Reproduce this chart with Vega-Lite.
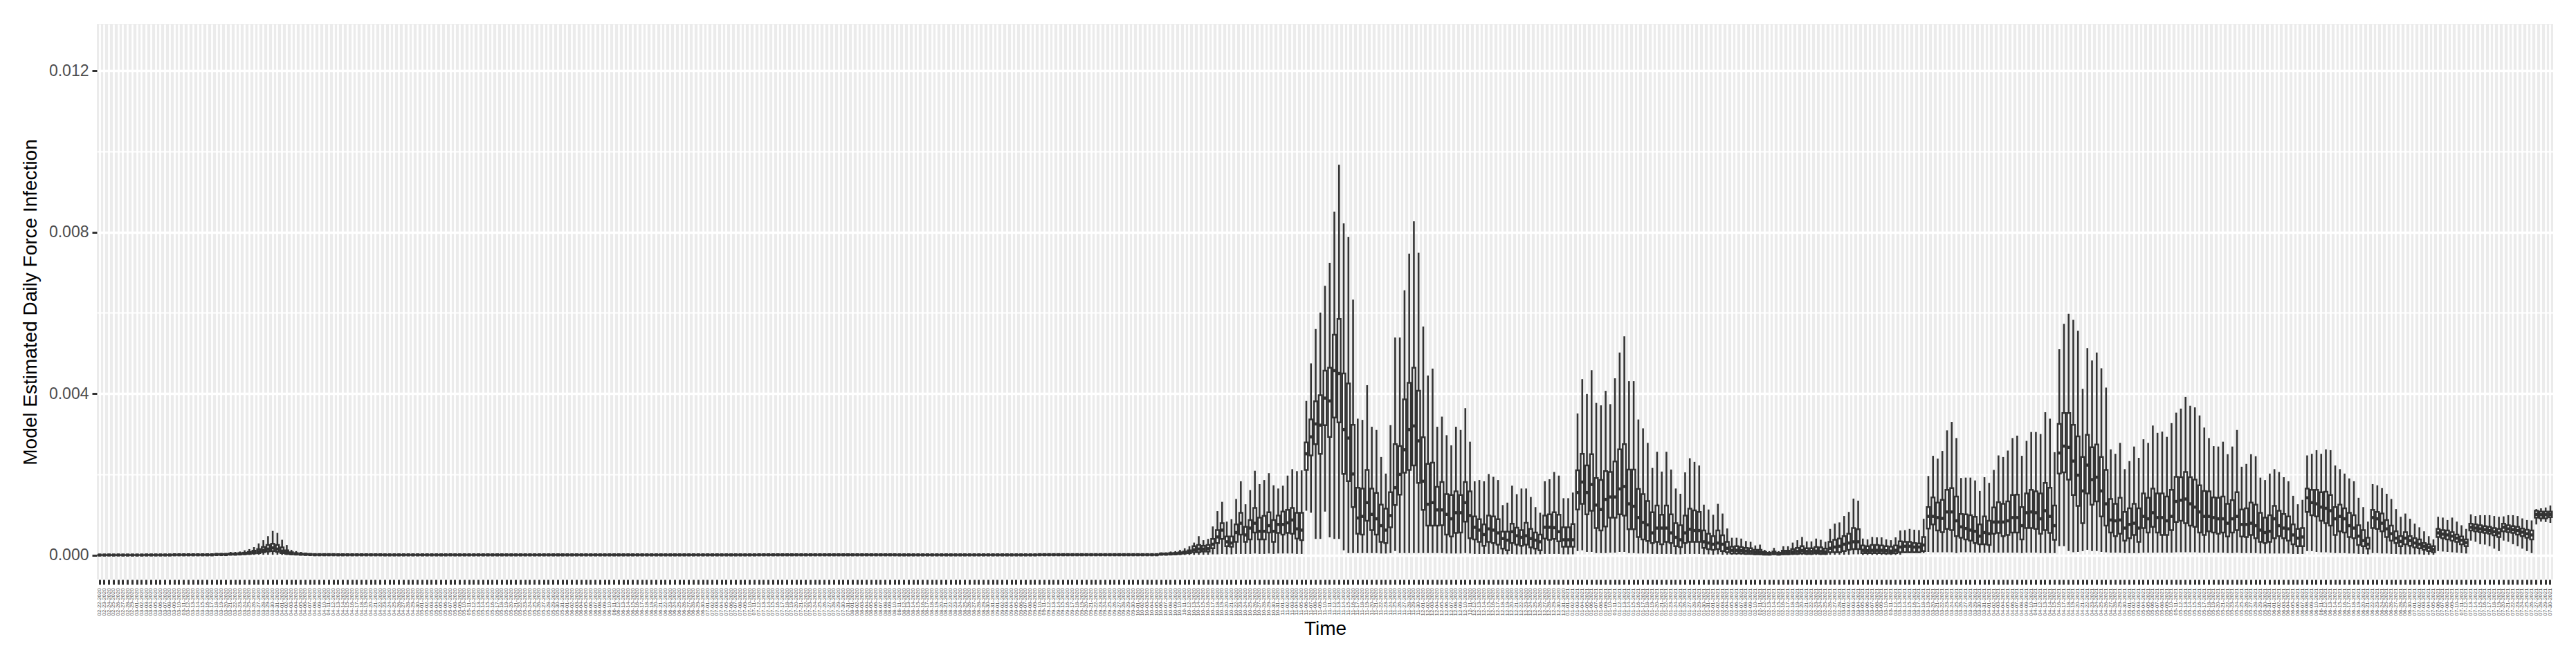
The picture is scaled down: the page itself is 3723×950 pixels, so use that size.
{
"$schema":"https://vega.github.io/schema/vega-lite/v6.json",
"width":3550,"height":803,
"autosize":{"type":"none"},
"padding":{"left":140,"top":35,"right":33,"bottom":112},
"background":"#FFFFFF",
"config":{"view":{"fill":"#EBEBEB","stroke":null},"font":"Liberation Sans"},
"data":{"values":[
{"t":"02-22-2020","lo":0,"q1":0.000001,"md":0.000002,"q3":0.000003,"hi":0.000006},
{"t":"02-23-2020","lo":0,"q1":0.000001,"md":0.000002,"q3":0.000003,"hi":0.000006},
{"t":"02-24-2020","lo":0,"q1":0.000001,"md":0.000002,"q3":0.000003,"hi":0.000006},
{"t":"02-25-2020","lo":0,"q1":0.000001,"md":0.000002,"q3":0.000003,"hi":0.000006},
{"t":"02-26-2020","lo":0,"q1":0.000001,"md":0.000002,"q3":0.000003,"hi":0.000006},
{"t":"02-27-2020","lo":0,"q1":0.000001,"md":0.000002,"q3":0.000003,"hi":0.000006},
{"t":"02-28-2020","lo":0,"q1":0.000001,"md":0.000002,"q3":0.000003,"hi":0.000006},
{"t":"02-29-2020","lo":0,"q1":0.000001,"md":0.000002,"q3":0.000003,"hi":0.000006},
{"t":"03-01-2020","lo":0,"q1":0.000001,"md":0.000002,"q3":0.000003,"hi":0.000006},
{"t":"03-02-2020","lo":0,"q1":0.000001,"md":0.000002,"q3":0.000003,"hi":0.000006},
{"t":"03-03-2020","lo":0,"q1":0.000002,"md":0.000004,"q3":0.000006,"hi":0.000012},
{"t":"03-04-2020","lo":0,"q1":0.000002,"md":0.000004,"q3":0.000006,"hi":0.000012},
{"t":"03-05-2020","lo":0,"q1":0.000002,"md":0.000004,"q3":0.000006,"hi":0.000012},
{"t":"03-06-2020","lo":0,"q1":0.000002,"md":0.000004,"q3":0.000006,"hi":0.000012},
{"t":"03-07-2020","lo":0,"q1":0.000002,"md":0.000004,"q3":0.000006,"hi":0.000012},
{"t":"03-08-2020","lo":0,"q1":0.000002,"md":0.000004,"q3":0.000006,"hi":0.000012},
{"t":"03-09-2020","lo":0.000001,"q1":0.000004,"md":0.000008,"q3":0.000012,"hi":0.00002},
{"t":"03-10-2020","lo":0.000001,"q1":0.000004,"md":0.000008,"q3":0.000012,"hi":0.00002},
{"t":"03-11-2020","lo":0.000001,"q1":0.000004,"md":0.000008,"q3":0.000012,"hi":0.00002},
{"t":"03-12-2020","lo":0.000001,"q1":0.000004,"md":0.000008,"q3":0.000012,"hi":0.00002},
{"t":"03-13-2020","lo":0.000001,"q1":0.000004,"md":0.000008,"q3":0.000012,"hi":0.00002},
{"t":"03-14-2020","lo":0.000001,"q1":0.000004,"md":0.000008,"q3":0.000012,"hi":0.00002},
{"t":"03-15-2020","lo":0.000001,"q1":0.000004,"md":0.000008,"q3":0.000012,"hi":0.00002},
{"t":"03-16-2020","lo":0.000001,"q1":0.000004,"md":0.000008,"q3":0.000012,"hi":0.00002},
{"t":"03-17-2020","lo":0.000001,"q1":0.000004,"md":0.000008,"q3":0.000012,"hi":0.00002},
{"t":"03-18-2020","lo":0.000002,"q1":0.00001,"md":0.000015,"q3":0.000025,"hi":0.00005},
{"t":"03-19-2020","lo":0.000002,"q1":0.00001,"md":0.000015,"q3":0.000025,"hi":0.00005},
{"t":"03-20-2020","lo":0.000002,"q1":0.00001,"md":0.000015,"q3":0.000025,"hi":0.00005},
{"t":"03-21-2020","lo":0.000003,"q1":0.000015,"md":0.000025,"q3":0.00004,"hi":0.00008},
{"t":"03-22-2020","lo":0.000003,"q1":0.000015,"md":0.000025,"q3":0.00004,"hi":0.00008},
{"t":"03-23-2020","lo":0.000004,"q1":0.00002,"md":0.00003,"q3":0.00005,"hi":0.00009},
{"t":"03-24-2020","lo":0.000005,"q1":0.000025,"md":0.00004,"q3":0.00006,"hi":0.00012},
{"t":"03-25-2020","lo":0.000006,"q1":0.00003,"md":0.00005,"q3":0.00008,"hi":0.00015},
{"t":"03-26-2020","lo":0.000008,"q1":0.00004,"md":0.00007,"q3":0.00011,"hi":0.0002},
{"t":"03-27-2020","lo":0.00001,"q1":0.00005,"md":0.00009,"q3":0.00015,"hi":0.00029},
{"t":"03-28-2020","lo":0.00001,"q1":0.00007,"md":0.00012,"q3":0.0002,"hi":0.00037},
{"t":"03-29-2020","lo":0.00001,"q1":0.00009,"md":0.00015,"q3":0.00025,"hi":0.00047},
{"t":"03-30-2020","lo":0.00001,"q1":0.0001,"md":0.00018,"q3":0.00028,"hi":0.0006},
{"t":"03-31-2020","lo":0.00001,"q1":0.00008,"md":0.00015,"q3":0.00025,"hi":0.00055},
{"t":"04-01-2020","lo":0.000008,"q1":0.00005,"md":0.0001,"q3":0.00019,"hi":0.00038},
{"t":"04-02-2020","lo":0.000006,"q1":0.00003,"md":0.00006,"q3":0.00012,"hi":0.00025},
{"t":"04-03-2020","lo":0.000004,"q1":0.00002,"md":0.00004,"q3":0.00007,"hi":0.00013},
{"t":"04-04-2020","lo":0.000003,"q1":0.000015,"md":0.00003,"q3":0.00005,"hi":0.0001},
{"t":"04-05-2020","lo":0.000002,"q1":0.000012,"md":0.000025,"q3":0.00004,"hi":0.00008},
{"t":"04-06-2020","lo":0.000002,"q1":0.00001,"md":0.00002,"q3":0.00003,"hi":0.00006},
{"t":"04-07-2020","lo":0.000001,"q1":0.000008,"md":0.000015,"q3":0.000025,"hi":0.000045},
{"t":"04-08-2020","lo":0.000001,"q1":0.000005,"md":0.00001,"q3":0.000018,"hi":0.000035},
{"t":"04-09-2020","lo":0.000001,"q1":0.000005,"md":0.00001,"q3":0.000018,"hi":0.000035},
{"t":"04-10-2020","lo":0.000001,"q1":0.000005,"md":0.00001,"q3":0.000018,"hi":0.000035},
{"t":"04-11-2020","lo":0.000001,"q1":0.000005,"md":0.00001,"q3":0.000018,"hi":0.000035},
{"t":"04-12-2020","lo":0.000001,"q1":0.000005,"md":0.00001,"q3":0.000018,"hi":0.000035},
{"t":"04-13-2020","lo":0.000001,"q1":0.000004,"md":0.000008,"q3":0.000014,"hi":0.000028},
{"t":"04-14-2020","lo":0.000001,"q1":0.000004,"md":0.000008,"q3":0.000014,"hi":0.000028},
{"t":"04-15-2020","lo":0.000001,"q1":0.000004,"md":0.000008,"q3":0.000014,"hi":0.000028},
{"t":"04-16-2020","lo":0.000001,"q1":0.000004,"md":0.000008,"q3":0.000014,"hi":0.000028},
{"t":"04-17-2020","lo":0.000001,"q1":0.000004,"md":0.000008,"q3":0.000014,"hi":0.000028},
{"t":"04-18-2020","lo":0.000001,"q1":0.000004,"md":0.000008,"q3":0.000014,"hi":0.000028},
{"t":"04-19-2020","lo":0.000001,"q1":0.000004,"md":0.000008,"q3":0.000014,"hi":0.000028},
{"t":"04-20-2020","lo":0.000001,"q1":0.000004,"md":0.000008,"q3":0.000014,"hi":0.000028},
{"t":"04-21-2020","lo":0.000001,"q1":0.000004,"md":0.000008,"q3":0.000014,"hi":0.000028},
{"t":"04-22-2020","lo":0.000001,"q1":0.000004,"md":0.000008,"q3":0.000014,"hi":0.000028},
{"t":"04-23-2020","lo":0,"q1":0.000003,"md":0.000006,"q3":0.00001,"hi":0.00002},
{"t":"04-24-2020","lo":0,"q1":0.000003,"md":0.000006,"q3":0.00001,"hi":0.00002},
{"t":"04-25-2020","lo":0,"q1":0.000003,"md":0.000006,"q3":0.00001,"hi":0.00002},
{"t":"04-26-2020","lo":0,"q1":0.000003,"md":0.000006,"q3":0.00001,"hi":0.00002},
{"t":"04-27-2020","lo":0,"q1":0.000003,"md":0.000006,"q3":0.00001,"hi":0.00002},
{"t":"04-28-2020","lo":0,"q1":0.000003,"md":0.000006,"q3":0.00001,"hi":0.00002},
{"t":"04-29-2020","lo":0,"q1":0.000003,"md":0.000006,"q3":0.00001,"hi":0.00002},
{"t":"04-30-2020","lo":0,"q1":0.000003,"md":0.000006,"q3":0.00001,"hi":0.00002},
{"t":"05-01-2020","lo":0,"q1":0.000003,"md":0.000006,"q3":0.00001,"hi":0.00002},
{"t":"05-02-2020","lo":0,"q1":0.000003,"md":0.000006,"q3":0.00001,"hi":0.00002},
{"t":"05-03-2020","lo":0,"q1":0.000003,"md":0.000006,"q3":0.00001,"hi":0.00002},
{"t":"05-04-2020","lo":0,"q1":0.000003,"md":0.000006,"q3":0.00001,"hi":0.00002},
{"t":"05-05-2020","lo":0,"q1":0.000003,"md":0.000006,"q3":0.00001,"hi":0.00002},
{"t":"05-06-2020","lo":0,"q1":0.000003,"md":0.000006,"q3":0.00001,"hi":0.00002},
{"t":"05-07-2020","lo":0,"q1":0.000003,"md":0.000006,"q3":0.00001,"hi":0.00002},
{"t":"05-08-2020","lo":0,"q1":0.000003,"md":0.000006,"q3":0.00001,"hi":0.00002},
{"t":"05-09-2020","lo":0,"q1":0.000003,"md":0.000006,"q3":0.00001,"hi":0.00002},
{"t":"05-10-2020","lo":0,"q1":0.000003,"md":0.000006,"q3":0.00001,"hi":0.00002},
{"t":"05-11-2020","lo":0,"q1":0.000003,"md":0.000006,"q3":0.00001,"hi":0.00002},
{"t":"05-12-2020","lo":0,"q1":0.000003,"md":0.000006,"q3":0.00001,"hi":0.00002},
{"t":"05-13-2020","lo":0,"q1":0.000003,"md":0.000006,"q3":0.00001,"hi":0.00002},
{"t":"05-14-2020","lo":0,"q1":0.000003,"md":0.000006,"q3":0.00001,"hi":0.00002},
{"t":"05-15-2020","lo":0,"q1":0.000003,"md":0.000006,"q3":0.00001,"hi":0.00002},
{"t":"05-16-2020","lo":0,"q1":0.000003,"md":0.000006,"q3":0.00001,"hi":0.00002},
{"t":"05-17-2020","lo":0,"q1":0.000003,"md":0.000006,"q3":0.00001,"hi":0.00002},
{"t":"05-18-2020","lo":0,"q1":0.000003,"md":0.000006,"q3":0.00001,"hi":0.00002},
{"t":"05-19-2020","lo":0,"q1":0.000003,"md":0.000006,"q3":0.00001,"hi":0.00002},
{"t":"05-20-2020","lo":0,"q1":0.000003,"md":0.000006,"q3":0.00001,"hi":0.00002},
{"t":"05-21-2020","lo":0,"q1":0.000003,"md":0.000006,"q3":0.00001,"hi":0.00002},
{"t":"05-22-2020","lo":0,"q1":0.000003,"md":0.000006,"q3":0.00001,"hi":0.00002},
{"t":"05-23-2020","lo":0,"q1":0.000003,"md":0.000006,"q3":0.00001,"hi":0.00002},
{"t":"05-24-2020","lo":0,"q1":0.000003,"md":0.000006,"q3":0.00001,"hi":0.00002},
{"t":"05-25-2020","lo":0,"q1":0.000003,"md":0.000006,"q3":0.00001,"hi":0.00002},
{"t":"05-26-2020","lo":0,"q1":0.000003,"md":0.000006,"q3":0.00001,"hi":0.00002},
{"t":"05-27-2020","lo":0,"q1":0.000003,"md":0.000006,"q3":0.00001,"hi":0.00002},
{"t":"05-28-2020","lo":0,"q1":0.000003,"md":0.000006,"q3":0.00001,"hi":0.00002},
{"t":"05-29-2020","lo":0,"q1":0.000003,"md":0.000006,"q3":0.00001,"hi":0.00002},
{"t":"05-30-2020","lo":0,"q1":0.000003,"md":0.000006,"q3":0.00001,"hi":0.00002},
{"t":"05-31-2020","lo":0,"q1":0.000003,"md":0.000006,"q3":0.00001,"hi":0.00002},
{"t":"06-01-2020","lo":0,"q1":0.000003,"md":0.000006,"q3":0.00001,"hi":0.00002},
{"t":"06-02-2020","lo":0,"q1":0.000003,"md":0.000006,"q3":0.00001,"hi":0.00002},
{"t":"06-03-2020","lo":0,"q1":0.000003,"md":0.000006,"q3":0.00001,"hi":0.00002},
{"t":"06-04-2020","lo":0,"q1":0.000003,"md":0.000006,"q3":0.00001,"hi":0.00002},
{"t":"06-05-2020","lo":0,"q1":0.000003,"md":0.000006,"q3":0.00001,"hi":0.00002},
{"t":"06-06-2020","lo":0,"q1":0.000003,"md":0.000006,"q3":0.00001,"hi":0.00002},
{"t":"06-07-2020","lo":0,"q1":0.000003,"md":0.000006,"q3":0.00001,"hi":0.00002},
{"t":"06-08-2020","lo":0,"q1":0.000003,"md":0.000006,"q3":0.00001,"hi":0.00002},
{"t":"06-09-2020","lo":0,"q1":0.000003,"md":0.000006,"q3":0.00001,"hi":0.00002},
{"t":"06-10-2020","lo":0,"q1":0.000003,"md":0.000006,"q3":0.00001,"hi":0.00002},
{"t":"06-11-2020","lo":0,"q1":0.000003,"md":0.000006,"q3":0.00001,"hi":0.00002},
{"t":"06-12-2020","lo":0,"q1":0.000003,"md":0.000006,"q3":0.00001,"hi":0.00002},
{"t":"06-13-2020","lo":0,"q1":0.000003,"md":0.000006,"q3":0.00001,"hi":0.00002},
{"t":"06-14-2020","lo":0,"q1":0.000003,"md":0.000006,"q3":0.00001,"hi":0.00002},
{"t":"06-15-2020","lo":0,"q1":0.000003,"md":0.000006,"q3":0.00001,"hi":0.00002},
{"t":"06-16-2020","lo":0,"q1":0.000003,"md":0.000006,"q3":0.00001,"hi":0.00002},
{"t":"06-17-2020","lo":0,"q1":0.000003,"md":0.000006,"q3":0.00001,"hi":0.00002},
{"t":"06-18-2020","lo":0,"q1":0.000003,"md":0.000006,"q3":0.00001,"hi":0.00002},
{"t":"06-19-2020","lo":0,"q1":0.000003,"md":0.000006,"q3":0.00001,"hi":0.00002},
{"t":"06-20-2020","lo":0,"q1":0.000003,"md":0.000006,"q3":0.00001,"hi":0.00002},
{"t":"06-21-2020","lo":0,"q1":0.000003,"md":0.000006,"q3":0.00001,"hi":0.00002},
{"t":"06-22-2020","lo":0,"q1":0.000003,"md":0.000006,"q3":0.00001,"hi":0.00002},
{"t":"06-23-2020","lo":0,"q1":0.000003,"md":0.000006,"q3":0.00001,"hi":0.00002},
{"t":"06-24-2020","lo":0,"q1":0.000003,"md":0.000006,"q3":0.00001,"hi":0.00002},
{"t":"06-25-2020","lo":0,"q1":0.000003,"md":0.000006,"q3":0.00001,"hi":0.00002},
{"t":"06-26-2020","lo":0,"q1":0.000003,"md":0.000006,"q3":0.00001,"hi":0.00002},
{"t":"06-27-2020","lo":0,"q1":0.000003,"md":0.000006,"q3":0.00001,"hi":0.00002},
{"t":"06-28-2020","lo":0,"q1":0.000003,"md":0.000006,"q3":0.00001,"hi":0.00002},
{"t":"06-29-2020","lo":0,"q1":0.000003,"md":0.000006,"q3":0.00001,"hi":0.00002},
{"t":"06-30-2020","lo":0,"q1":0.000003,"md":0.000006,"q3":0.00001,"hi":0.00002},
{"t":"07-01-2020","lo":0,"q1":0.000003,"md":0.000006,"q3":0.00001,"hi":0.00002},
{"t":"07-02-2020","lo":0,"q1":0.000003,"md":0.000006,"q3":0.00001,"hi":0.00002},
{"t":"07-03-2020","lo":0,"q1":0.000003,"md":0.000006,"q3":0.00001,"hi":0.00002},
{"t":"07-04-2020","lo":0,"q1":0.000003,"md":0.000006,"q3":0.00001,"hi":0.00002},
{"t":"07-05-2020","lo":0,"q1":0.000003,"md":0.000006,"q3":0.00001,"hi":0.00002},
{"t":"07-06-2020","lo":0,"q1":0.000003,"md":0.000006,"q3":0.00001,"hi":0.00002},
{"t":"07-07-2020","lo":0,"q1":0.000003,"md":0.000006,"q3":0.00001,"hi":0.00002},
{"t":"07-08-2020","lo":0,"q1":0.000003,"md":0.000006,"q3":0.00001,"hi":0.00002},
{"t":"07-09-2020","lo":0,"q1":0.000003,"md":0.000006,"q3":0.00001,"hi":0.00002},
{"t":"07-10-2020","lo":0,"q1":0.000003,"md":0.000006,"q3":0.00001,"hi":0.00002},
{"t":"07-11-2020","lo":0,"q1":0.000003,"md":0.000006,"q3":0.00001,"hi":0.00002},
{"t":"07-12-2020","lo":0,"q1":0.000004,"md":0.000008,"q3":0.000013,"hi":0.000028},
{"t":"07-13-2020","lo":0,"q1":0.000004,"md":0.000008,"q3":0.000013,"hi":0.000028},
{"t":"07-14-2020","lo":0,"q1":0.000004,"md":0.000008,"q3":0.000013,"hi":0.000028},
{"t":"07-15-2020","lo":0,"q1":0.000004,"md":0.000008,"q3":0.000013,"hi":0.000028},
{"t":"07-16-2020","lo":0,"q1":0.000004,"md":0.000008,"q3":0.000013,"hi":0.000028},
{"t":"07-17-2020","lo":0,"q1":0.000004,"md":0.000008,"q3":0.000013,"hi":0.000028},
{"t":"07-18-2020","lo":0,"q1":0.000004,"md":0.000008,"q3":0.000013,"hi":0.000028},
{"t":"07-19-2020","lo":0,"q1":0.000004,"md":0.000008,"q3":0.000013,"hi":0.000028},
{"t":"07-20-2020","lo":0,"q1":0.000004,"md":0.000008,"q3":0.000013,"hi":0.000028},
{"t":"07-21-2020","lo":0,"q1":0.000004,"md":0.000008,"q3":0.000013,"hi":0.000028},
{"t":"07-22-2020","lo":0,"q1":0.000004,"md":0.000008,"q3":0.000013,"hi":0.000028},
{"t":"07-23-2020","lo":0,"q1":0.000004,"md":0.000008,"q3":0.000013,"hi":0.000028},
{"t":"07-24-2020","lo":0,"q1":0.000004,"md":0.000008,"q3":0.000013,"hi":0.000028},
{"t":"07-25-2020","lo":0,"q1":0.000004,"md":0.000008,"q3":0.000013,"hi":0.000028},
{"t":"07-26-2020","lo":0,"q1":0.000004,"md":0.000008,"q3":0.000013,"hi":0.000028},
{"t":"07-27-2020","lo":0,"q1":0.000004,"md":0.000008,"q3":0.000013,"hi":0.000028},
{"t":"07-28-2020","lo":0,"q1":0.000004,"md":0.000008,"q3":0.000013,"hi":0.000028},
{"t":"07-29-2020","lo":0,"q1":0.000004,"md":0.000008,"q3":0.000013,"hi":0.000028},
{"t":"07-30-2020","lo":0,"q1":0.000004,"md":0.000008,"q3":0.000013,"hi":0.000028},
{"t":"07-31-2020","lo":0,"q1":0.000004,"md":0.000008,"q3":0.000013,"hi":0.000028},
{"t":"08-01-2020","lo":0,"q1":0.000004,"md":0.000008,"q3":0.000013,"hi":0.000028},
{"t":"08-02-2020","lo":0,"q1":0.000004,"md":0.000008,"q3":0.000013,"hi":0.000028},
{"t":"08-03-2020","lo":0,"q1":0.000004,"md":0.000008,"q3":0.000013,"hi":0.000028},
{"t":"08-04-2020","lo":0,"q1":0.000004,"md":0.000008,"q3":0.000013,"hi":0.000028},
{"t":"08-05-2020","lo":0,"q1":0.000004,"md":0.000008,"q3":0.000013,"hi":0.000028},
{"t":"08-06-2020","lo":0,"q1":0.000004,"md":0.000008,"q3":0.000013,"hi":0.000028},
{"t":"08-07-2020","lo":0,"q1":0.000004,"md":0.000008,"q3":0.000013,"hi":0.000028},
{"t":"08-08-2020","lo":0,"q1":0.000004,"md":0.000008,"q3":0.000013,"hi":0.000028},
{"t":"08-09-2020","lo":0,"q1":0.000004,"md":0.000008,"q3":0.000013,"hi":0.000028},
{"t":"08-10-2020","lo":0,"q1":0.000004,"md":0.000008,"q3":0.000013,"hi":0.000028},
{"t":"08-11-2020","lo":0,"q1":0.000003,"md":0.000006,"q3":0.00001,"hi":0.00002},
{"t":"08-12-2020","lo":0,"q1":0.000003,"md":0.000006,"q3":0.00001,"hi":0.00002},
{"t":"08-13-2020","lo":0,"q1":0.000003,"md":0.000006,"q3":0.00001,"hi":0.00002},
{"t":"08-14-2020","lo":0,"q1":0.000003,"md":0.000006,"q3":0.00001,"hi":0.00002},
{"t":"08-15-2020","lo":0,"q1":0.000003,"md":0.000006,"q3":0.00001,"hi":0.00002},
{"t":"08-16-2020","lo":0,"q1":0.000003,"md":0.000006,"q3":0.00001,"hi":0.00002},
{"t":"08-17-2020","lo":0,"q1":0.000003,"md":0.000006,"q3":0.00001,"hi":0.00002},
{"t":"08-18-2020","lo":0,"q1":0.000003,"md":0.000006,"q3":0.00001,"hi":0.00002},
{"t":"08-19-2020","lo":0,"q1":0.000003,"md":0.000006,"q3":0.00001,"hi":0.00002},
{"t":"08-20-2020","lo":0,"q1":0.000003,"md":0.000006,"q3":0.00001,"hi":0.00002},
{"t":"08-21-2020","lo":0,"q1":0.000003,"md":0.000006,"q3":0.00001,"hi":0.00002},
{"t":"08-22-2020","lo":0,"q1":0.000003,"md":0.000006,"q3":0.00001,"hi":0.00002},
{"t":"08-23-2020","lo":0,"q1":0.000003,"md":0.000006,"q3":0.00001,"hi":0.00002},
{"t":"08-24-2020","lo":0,"q1":0.000003,"md":0.000006,"q3":0.00001,"hi":0.00002},
{"t":"08-25-2020","lo":0,"q1":0.000003,"md":0.000006,"q3":0.00001,"hi":0.00002},
{"t":"08-26-2020","lo":0,"q1":0.000003,"md":0.000006,"q3":0.00001,"hi":0.00002},
{"t":"08-27-2020","lo":0,"q1":0.000003,"md":0.000006,"q3":0.00001,"hi":0.00002},
{"t":"08-28-2020","lo":0,"q1":0.000003,"md":0.000006,"q3":0.00001,"hi":0.00002},
{"t":"08-29-2020","lo":0,"q1":0.000003,"md":0.000006,"q3":0.00001,"hi":0.00002},
{"t":"08-30-2020","lo":0,"q1":0.000003,"md":0.000006,"q3":0.00001,"hi":0.00002},
{"t":"08-31-2020","lo":0,"q1":0.000003,"md":0.000006,"q3":0.00001,"hi":0.00002},
{"t":"09-01-2020","lo":0,"q1":0.000003,"md":0.000006,"q3":0.00001,"hi":0.00002},
{"t":"09-02-2020","lo":0,"q1":0.000003,"md":0.000006,"q3":0.00001,"hi":0.00002},
{"t":"09-03-2020","lo":0,"q1":0.000003,"md":0.000006,"q3":0.00001,"hi":0.00002},
{"t":"09-04-2020","lo":0,"q1":0.000003,"md":0.000006,"q3":0.00001,"hi":0.00002},
{"t":"09-05-2020","lo":0,"q1":0.000003,"md":0.000006,"q3":0.00001,"hi":0.00002},
{"t":"09-06-2020","lo":0,"q1":0.000003,"md":0.000006,"q3":0.00001,"hi":0.00002},
{"t":"09-07-2020","lo":0,"q1":0.000003,"md":0.000006,"q3":0.00001,"hi":0.00002},
{"t":"09-08-2020","lo":0,"q1":0.000003,"md":0.000006,"q3":0.00001,"hi":0.00002},
{"t":"09-09-2020","lo":0,"q1":0.000003,"md":0.000006,"q3":0.00001,"hi":0.00002},
{"t":"09-10-2020","lo":0.000001,"q1":0.000005,"md":0.00001,"q3":0.000016,"hi":0.000035},
{"t":"09-11-2020","lo":0.000001,"q1":0.000005,"md":0.00001,"q3":0.000016,"hi":0.000035},
{"t":"09-12-2020","lo":0.000001,"q1":0.000005,"md":0.00001,"q3":0.000016,"hi":0.000035},
{"t":"09-13-2020","lo":0.000001,"q1":0.000005,"md":0.00001,"q3":0.000016,"hi":0.000035},
{"t":"09-14-2020","lo":0.000001,"q1":0.000005,"md":0.00001,"q3":0.000016,"hi":0.000035},
{"t":"09-15-2020","lo":0.000001,"q1":0.000005,"md":0.00001,"q3":0.000016,"hi":0.000035},
{"t":"09-16-2020","lo":0.000001,"q1":0.000005,"md":0.00001,"q3":0.000016,"hi":0.000035},
{"t":"09-17-2020","lo":0.000001,"q1":0.000005,"md":0.00001,"q3":0.000016,"hi":0.000035},
{"t":"09-18-2020","lo":0.000001,"q1":0.000005,"md":0.00001,"q3":0.000016,"hi":0.000035},
{"t":"09-19-2020","lo":0.000001,"q1":0.000005,"md":0.00001,"q3":0.000016,"hi":0.000035},
{"t":"09-20-2020","lo":0.000001,"q1":0.000005,"md":0.00001,"q3":0.000016,"hi":0.000035},
{"t":"09-21-2020","lo":0.000001,"q1":0.000005,"md":0.00001,"q3":0.000016,"hi":0.000035},
{"t":"09-22-2020","lo":0.000001,"q1":0.000005,"md":0.00001,"q3":0.000016,"hi":0.000035},
{"t":"09-23-2020","lo":0.000001,"q1":0.000005,"md":0.00001,"q3":0.000016,"hi":0.000035},
{"t":"09-24-2020","lo":0.000001,"q1":0.000005,"md":0.00001,"q3":0.000016,"hi":0.000035},
{"t":"09-25-2020","lo":0.000001,"q1":0.000005,"md":0.00001,"q3":0.000016,"hi":0.000035},
{"t":"09-26-2020","lo":0.000001,"q1":0.000005,"md":0.00001,"q3":0.000016,"hi":0.000035},
{"t":"09-27-2020","lo":0.000001,"q1":0.000005,"md":0.00001,"q3":0.000016,"hi":0.000035},
{"t":"09-28-2020","lo":0.000001,"q1":0.000005,"md":0.00001,"q3":0.000016,"hi":0.000035},
{"t":"09-29-2020","lo":0.000001,"q1":0.000005,"md":0.00001,"q3":0.000016,"hi":0.000035},
{"t":"09-30-2020","lo":0.000001,"q1":0.000005,"md":0.00001,"q3":0.000016,"hi":0.000035},
{"t":"10-01-2020","lo":0.000001,"q1":0.000005,"md":0.00001,"q3":0.000016,"hi":0.000035},
{"t":"10-02-2020","lo":0.000001,"q1":0.000005,"md":0.00001,"q3":0.000016,"hi":0.000035},
{"t":"10-03-2020","lo":0.000001,"q1":0.000005,"md":0.00001,"q3":0.000016,"hi":0.000035},
{"t":"10-04-2020","lo":0.000001,"q1":0.000005,"md":0.00001,"q3":0.000016,"hi":0.000035},
{"t":"10-05-2020","lo":0.000001,"q1":0.000005,"md":0.00001,"q3":0.000016,"hi":0.000035},
{"t":"10-06-2020","lo":0.000002,"q1":0.000015,"md":0.000025,"q3":0.00004,"hi":0.00007},
{"t":"10-07-2020","lo":0.000002,"q1":0.000015,"md":0.000025,"q3":0.00004,"hi":0.00007},
{"t":"10-08-2020","lo":0.000003,"q1":0.00002,"md":0.00003,"q3":0.00005,"hi":0.00009},
{"t":"10-09-2020","lo":0.000003,"q1":0.00002,"md":0.000035,"q3":0.000055,"hi":0.0001},
{"t":"10-10-2020","lo":0.000004,"q1":0.00003,"md":0.000045,"q3":0.00007,"hi":0.00013},
{"t":"10-11-2020","lo":0.000005,"q1":0.00004,"md":0.00006,"q3":0.00009,"hi":0.00017},
{"t":"10-12-2020","lo":0.000006,"q1":0.00005,"md":0.00008,"q3":0.00012,"hi":0.00022},
{"t":"10-13-2020","lo":0.000008,"q1":0.00007,"md":0.00013,"q3":0.00022,"hi":0.00031},
{"t":"10-14-2020","lo":0.00001,"q1":0.00007,"md":0.00015,"q3":0.00025,"hi":0.00047},
{"t":"10-15-2020","lo":0.00001,"q1":0.00009,"md":0.00015,"q3":0.00023,"hi":0.00037},
{"t":"10-16-2020","lo":0.00001,"q1":0.00009,"md":0.00016,"q3":0.00025,"hi":0.0004},
{"t":"10-17-2020","lo":0.00002,"q1":0.00017,"md":0.00027,"q3":0.0004,"hi":0.00071},
{"t":"10-18-2020","lo":0.00002,"q1":0.0003,"md":0.00045,"q3":0.00062,"hi":0.00109},
{"t":"10-19-2020","lo":0.00003,"q1":0.0004,"md":0.00062,"q3":0.00079,"hi":0.00132},
{"t":"10-20-2020","lo":0.00002,"q1":0.00022,"md":0.00033,"q3":0.00046,"hi":0.00083},
{"t":"10-21-2020","lo":0.00002,"q1":0.00021,"md":0.0003,"q3":0.00046,"hi":0.00089},
{"t":"10-22-2020","lo":0.00003,"q1":0.00033,"md":0.00056,"q3":0.00076,"hi":0.00139},
{"t":"10-23-2020","lo":0.00003,"q1":0.00051,"md":0.00079,"q3":0.00105,"hi":0.00183},
{"t":"10-24-2020","lo":0.00003,"q1":0.00033,"md":0.0005,"q3":0.0007,"hi":0.00126},
{"t":"10-25-2020","lo":0.00003,"q1":0.00039,"md":0.00067,"q3":0.00087,"hi":0.00161},
{"t":"10-26-2020","lo":0.00004,"q1":0.00056,"md":0.00079,"q3":0.00117,"hi":0.00209},
{"t":"10-27-2020","lo":0.00003,"q1":0.00039,"md":0.00059,"q3":0.00093,"hi":0.00176},
{"t":"10-28-2020","lo":0.00003,"q1":0.00039,"md":0.00059,"q3":0.00097,"hi":0.00186},
{"t":"10-29-2020","lo":0.00004,"q1":0.00056,"md":0.00073,"q3":0.00106,"hi":0.00203},
{"t":"10-30-2020","lo":0.00003,"q1":0.00033,"md":0.00059,"q3":0.00087,"hi":0.00173},
{"t":"10-31-2020","lo":0.00004,"q1":0.00055,"md":0.00076,"q3":0.00098,"hi":0.00165},
{"t":"11-01-2020","lo":0.00004,"q1":0.00051,"md":0.00076,"q3":0.00108,"hi":0.00172},
{"t":"11-02-2020","lo":0.00004,"q1":0.00055,"md":0.0008,"q3":0.00112,"hi":0.00197},
{"t":"11-03-2020","lo":0.00004,"q1":0.00053,"md":0.00087,"q3":0.00117,"hi":0.00213},
{"t":"11-04-2020","lo":0.00003,"q1":0.00041,"md":0.00065,"q3":0.00105,"hi":0.00208},
{"t":"11-05-2020","lo":0.00003,"q1":0.00037,"md":0.00062,"q3":0.00105,"hi":0.0021},
{"t":"11-06-2020","lo":0.0011,"q1":0.00211,"md":0.00251,"q3":0.00279,"hi":0.00382},
{"t":"11-07-2020","lo":0.00105,"q1":0.00247,"md":0.00293,"q3":0.00336,"hi":0.00475},
{"t":"11-08-2020","lo":0.0004,"q1":0.00275,"md":0.00325,"q3":0.00381,"hi":0.0056},
{"t":"11-09-2020","lo":0.0004,"q1":0.00251,"md":0.00322,"q3":0.00396,"hi":0.00601},
{"t":"11-10-2020","lo":0.00108,"q1":0.00322,"md":0.00389,"q3":0.00457,"hi":0.00667},
{"t":"11-11-2020","lo":0.00044,"q1":0.00293,"md":0.00382,"q3":0.00464,"hi":0.00724},
{"t":"11-12-2020","lo":0.0004,"q1":0.00341,"md":0.00457,"q3":0.00546,"hi":0.00851},
{"t":"11-13-2020","lo":0.0004,"q1":0.00329,"md":0.0045,"q3":0.00585,"hi":0.00967},
{"t":"11-14-2020","lo":0.00012,"q1":0.00201,"md":0.00311,"q3":0.0045,"hi":0.00822},
{"t":"11-15-2020","lo":0.00005,"q1":0.00183,"md":0.0029,"q3":0.00425,"hi":0.00788},
{"t":"11-16-2020","lo":0.00005,"q1":0.00119,"md":0.00201,"q3":0.00323,"hi":0.00633},
{"t":"11-17-2020","lo":0.00005,"q1":0.00053,"md":0.00092,"q3":0.00167,"hi":0.00338},
{"t":"11-18-2020","lo":0.00005,"q1":0.00051,"md":0.00096,"q3":0.00165,"hi":0.00335},
{"t":"11-19-2020","lo":0.00005,"q1":0.00085,"md":0.0013,"q3":0.00211,"hi":0.00421},
{"t":"11-20-2020","lo":0.00005,"q1":0.00062,"md":0.00101,"q3":0.00165,"hi":0.00318},
{"t":"11-21-2020","lo":0.00005,"q1":0.00051,"md":0.0009,"q3":0.00154,"hi":0.0031},
{"t":"11-22-2020","lo":0.00004,"q1":0.00033,"md":0.00073,"q3":0.00125,"hi":0.00243},
{"t":"11-23-2020","lo":0.00004,"q1":0.0003,"md":0.00062,"q3":0.00115,"hi":0.00202},
{"t":"11-24-2020","lo":0.00005,"q1":0.00069,"md":0.00098,"q3":0.00156,"hi":0.00322},
{"t":"11-25-2020","lo":0.0001,"q1":0.00124,"md":0.00167,"q3":0.00275,"hi":0.00539},
{"t":"11-26-2020","lo":0.00005,"q1":0.0015,"md":0.002,"q3":0.0027,"hi":0.00539},
{"t":"11-27-2020","lo":0.00005,"q1":0.00204,"md":0.00261,"q3":0.00386,"hi":0.00656},
{"t":"11-28-2020","lo":0.00005,"q1":0.00211,"md":0.00311,"q3":0.00427,"hi":0.00747},
{"t":"11-29-2020","lo":0.00005,"q1":0.00222,"md":0.0032,"q3":0.00464,"hi":0.00827},
{"t":"11-30-2020","lo":0.00005,"q1":0.00179,"md":0.00283,"q3":0.00407,"hi":0.00749},
{"t":"12-01-2020","lo":0.00005,"q1":0.00112,"md":0.00183,"q3":0.00292,"hi":0.00566},
{"t":"12-02-2020","lo":0.00005,"q1":0.00073,"md":0.00126,"q3":0.00226,"hi":0.00445},
{"t":"12-03-2020","lo":0.00005,"q1":0.00073,"md":0.0013,"q3":0.00229,"hi":0.00462},
{"t":"12-04-2020","lo":0.00005,"q1":0.00073,"md":0.00112,"q3":0.00169,"hi":0.00318},
{"t":"12-05-2020","lo":0.00005,"q1":0.00074,"md":0.00112,"q3":0.00181,"hi":0.00343},
{"t":"12-06-2020","lo":0.00004,"q1":0.00051,"md":0.00101,"q3":0.00151,"hi":0.00297},
{"t":"12-07-2020","lo":0.00004,"q1":0.00046,"md":0.0009,"q3":0.00149,"hi":0.00272},
{"t":"12-08-2020","lo":0.00004,"q1":0.00055,"md":0.00105,"q3":0.00158,"hi":0.00318},
{"t":"12-09-2020","lo":0.00004,"q1":0.00056,"md":0.00105,"q3":0.00149,"hi":0.0031},
{"t":"12-10-2020","lo":0.00005,"q1":0.00083,"md":0.0013,"q3":0.00181,"hi":0.00364},
{"t":"12-11-2020","lo":0.00004,"q1":0.00042,"md":0.00098,"q3":0.00158,"hi":0.00281},
{"t":"12-12-2020","lo":0.00003,"q1":0.00039,"md":0.00069,"q3":0.00096,"hi":0.00183},
{"t":"12-13-2020","lo":0.00003,"q1":0.00033,"md":0.00062,"q3":0.00089,"hi":0.00186},
{"t":"12-14-2020","lo":0.00003,"q1":0.00023,"md":0.00051,"q3":0.00076,"hi":0.00183},
{"t":"12-15-2020","lo":0.00003,"q1":0.00033,"md":0.00065,"q3":0.00098,"hi":0.00201},
{"t":"12-16-2020","lo":0.00003,"q1":0.0003,"md":0.00062,"q3":0.00096,"hi":0.00194},
{"t":"12-17-2020","lo":0.00003,"q1":0.00026,"md":0.00055,"q3":0.00089,"hi":0.00186},
{"t":"12-18-2020","lo":0.00002,"q1":0.00016,"md":0.00041,"q3":0.00058,"hi":0.00124},
{"t":"12-19-2020","lo":0.00002,"q1":0.00012,"md":0.00037,"q3":0.00058,"hi":0.0013},
{"t":"12-20-2020","lo":0.00003,"q1":0.0003,"md":0.00058,"q3":0.00078,"hi":0.00172},
{"t":"12-21-2020","lo":0.00002,"q1":0.00026,"md":0.00048,"q3":0.00068,"hi":0.00151},
{"t":"12-22-2020","lo":0.00002,"q1":0.00023,"md":0.00044,"q3":0.00062,"hi":0.00165},
{"t":"12-23-2020","lo":0.00002,"q1":0.00026,"md":0.00048,"q3":0.0008,"hi":0.00165},
{"t":"12-24-2020","lo":0.00002,"q1":0.00019,"md":0.00041,"q3":0.00065,"hi":0.00144},
{"t":"12-25-2020","lo":0.00002,"q1":0.00016,"md":0.00037,"q3":0.00056,"hi":0.00119},
{"t":"12-26-2020","lo":0.00002,"q1":0.00012,"md":0.00033,"q3":0.00051,"hi":0.00105},
{"t":"12-27-2020","lo":0.00003,"q1":0.00041,"md":0.00069,"q3":0.00098,"hi":0.00183},
{"t":"12-28-2020","lo":0.00003,"q1":0.00038,"md":0.00069,"q3":0.00101,"hi":0.00188},
{"t":"12-29-2020","lo":0.00003,"q1":0.0004,"md":0.00068,"q3":0.00106,"hi":0.00206},
{"t":"12-30-2020","lo":0.00003,"q1":0.00034,"md":0.00058,"q3":0.001,"hi":0.00197},
{"t":"12-31-2020","lo":0.00002,"q1":0.00021,"md":0.00038,"q3":0.00069,"hi":0.00141},
{"t":"01-01-2021","lo":0.00002,"q1":0.00021,"md":0.00038,"q3":0.00069,"hi":0.00141},
{"t":"01-02-2021","lo":0.00002,"q1":0.00021,"md":0.00038,"q3":0.00077,"hi":0.00155},
{"t":"01-03-2021","lo":0.0001,"q1":0.00113,"md":0.00155,"q3":0.0021,"hi":0.00351},
{"t":"01-04-2021","lo":0.00012,"q1":0.00127,"md":0.00181,"q3":0.00251,"hi":0.00436},
{"t":"01-05-2021","lo":0.00008,"q1":0.00101,"md":0.00155,"q3":0.00222,"hi":0.00399},
{"t":"01-06-2021","lo":0.00008,"q1":0.0011,"md":0.00175,"q3":0.0025,"hi":0.00458},
{"t":"01-07-2021","lo":0.00005,"q1":0.00067,"md":0.00124,"q3":0.00191,"hi":0.00377},
{"t":"01-08-2021","lo":0.00005,"q1":0.00061,"md":0.00113,"q3":0.00186,"hi":0.00371},
{"t":"01-09-2021","lo":0.00005,"q1":0.00071,"md":0.00138,"q3":0.00208,"hi":0.00407},
{"t":"01-10-2021","lo":0.00006,"q1":0.00093,"md":0.00144,"q3":0.00206,"hi":0.00374},
{"t":"01-11-2021","lo":0.00006,"q1":0.00093,"md":0.00144,"q3":0.00232,"hi":0.00438},
{"t":"01-12-2021","lo":0.00008,"q1":0.00101,"md":0.00164,"q3":0.00262,"hi":0.00502},
{"t":"01-13-2021","lo":0.00008,"q1":0.00098,"md":0.0017,"q3":0.00275,"hi":0.00542},
{"t":"01-14-2021","lo":0.00005,"q1":0.00064,"md":0.00127,"q3":0.00212,"hi":0.00431},
{"t":"01-15-2021","lo":0.00005,"q1":0.00064,"md":0.00121,"q3":0.00212,"hi":0.00431},
{"t":"01-16-2021","lo":0.00004,"q1":0.00045,"md":0.00093,"q3":0.00164,"hi":0.00336},
{"t":"01-17-2021","lo":0.00004,"q1":0.00039,"md":0.00081,"q3":0.00151,"hi":0.00314},
{"t":"01-18-2021","lo":0.00004,"q1":0.00035,"md":0.00075,"q3":0.00134,"hi":0.00278},
{"t":"01-19-2021","lo":0.00003,"q1":0.0003,"md":0.00055,"q3":0.00106,"hi":0.00216},
{"t":"01-20-2021","lo":0.00003,"q1":0.00033,"md":0.00067,"q3":0.00123,"hi":0.00256},
{"t":"01-21-2021","lo":0.00003,"q1":0.00027,"md":0.00067,"q3":0.001,"hi":0.00207},
{"t":"01-22-2021","lo":0.00003,"q1":0.00033,"md":0.00067,"q3":0.00123,"hi":0.00256},
{"t":"01-23-2021","lo":0.00003,"q1":0.0003,"md":0.00055,"q3":0.00101,"hi":0.00212},
{"t":"01-24-2021","lo":0.00002,"q1":0.00022,"md":0.00044,"q3":0.00079,"hi":0.00165},
{"t":"01-25-2021","lo":0.00002,"q1":0.0002,"md":0.00038,"q3":0.00074,"hi":0.00152},
{"t":"01-26-2021","lo":0.00003,"q1":0.0003,"md":0.00055,"q3":0.00098,"hi":0.00205},
{"t":"01-27-2021","lo":0.00003,"q1":0.00033,"md":0.00064,"q3":0.00115,"hi":0.0024},
{"t":"01-28-2021","lo":0.00003,"q1":0.00033,"md":0.00061,"q3":0.00111,"hi":0.00231},
{"t":"01-29-2021","lo":0.00003,"q1":0.00033,"md":0.00061,"q3":0.00107,"hi":0.00222},
{"t":"01-30-2021","lo":0.00002,"q1":0.00018,"md":0.00033,"q3":0.00061,"hi":0.00125},
{"t":"01-31-2021","lo":0.00002,"q1":0.00015,"md":0.0003,"q3":0.00053,"hi":0.00113},
{"t":"02-01-2021","lo":0.00001,"q1":0.00013,"md":0.00027,"q3":0.00047,"hi":0.001},
{"t":"02-02-2021","lo":0.00002,"q1":0.00015,"md":0.0003,"q3":0.00061,"hi":0.00127},
{"t":"02-03-2021","lo":0.00001,"q1":0.0001,"md":0.00027,"q3":0.00049,"hi":0.00103},
{"t":"02-04-2021","lo":0.00001,"q1":0.00007,"md":0.00017,"q3":0.00033,"hi":0.00066},
{"t":"02-05-2021","lo":0.00001,"q1":0.00004,"md":0.00012,"q3":0.00021,"hi":0.00043},
{"t":"02-06-2021","lo":0.00001,"q1":0.00004,"md":0.00012,"q3":0.00022,"hi":0.00043},
{"t":"02-07-2021","lo":0.00001,"q1":0.00004,"md":0.00011,"q3":0.0002,"hi":0.00041},
{"t":"02-08-2021","lo":0.00001,"q1":0.00003,"md":0.0001,"q3":0.00018,"hi":0.00035},
{"t":"02-09-2021","lo":0.00001,"q1":0.00003,"md":0.00009,"q3":0.00017,"hi":0.00033},
{"t":"02-10-2021","lo":0.000005,"q1":0.00002,"md":0.00007,"q3":0.00013,"hi":0.00024},
{"t":"02-11-2021","lo":0.000005,"q1":0.00002,"md":0.00007,"q3":0.00013,"hi":0.00026},
{"t":"02-12-2021","lo":0.000003,"q1":0.00001,"md":0.00004,"q3":0.00008,"hi":0.00013},
{"t":"02-13-2021","lo":0.000003,"q1":0.00001,"md":0.00003,"q3":0.00006,"hi":0.0001},
{"t":"02-14-2021","lo":0.000004,"q1":0.00002,"md":0.00005,"q3":0.00009,"hi":0.00018},
{"t":"02-15-2021","lo":0.000003,"q1":0.00001,"md":0.00003,"q3":0.00006,"hi":0.0001},
{"t":"02-16-2021","lo":0.000004,"q1":0.00002,"md":0.00006,"q3":0.00011,"hi":0.00022},
{"t":"02-17-2021","lo":0.000004,"q1":0.00002,"md":0.00006,"q3":0.00011,"hi":0.00022},
{"t":"02-18-2021","lo":0.000005,"q1":0.00003,"md":0.00008,"q3":0.00015,"hi":0.00031},
{"t":"02-19-2021","lo":0.000005,"q1":0.00003,"md":0.00009,"q3":0.00018,"hi":0.00037},
{"t":"02-20-2021","lo":0.000006,"q1":0.00004,"md":0.00011,"q3":0.00022,"hi":0.00045},
{"t":"02-21-2021","lo":0.000005,"q1":0.00003,"md":0.00009,"q3":0.00017,"hi":0.00034},
{"t":"02-22-2021","lo":0.000005,"q1":0.00003,"md":0.00009,"q3":0.00017,"hi":0.00034},
{"t":"02-23-2021","lo":0.000006,"q1":0.00004,"md":0.0001,"q3":0.0002,"hi":0.00041},
{"t":"02-24-2021","lo":0.000005,"q1":0.00003,"md":0.00009,"q3":0.00019,"hi":0.00038},
{"t":"02-25-2021","lo":0.000005,"q1":0.00003,"md":0.00008,"q3":0.00016,"hi":0.00033},
{"t":"02-26-2021","lo":0.00001,"q1":0.00007,"md":0.00017,"q3":0.00033,"hi":0.00065},
{"t":"02-27-2021","lo":0.00001,"q1":0.00007,"md":0.0002,"q3":0.00038,"hi":0.00078},
{"t":"02-28-2021","lo":0.00001,"q1":0.00007,"md":0.00022,"q3":0.00041,"hi":0.00081},
{"t":"03-01-2021","lo":0.00001,"q1":0.0001,"md":0.00027,"q3":0.00047,"hi":0.00097},
{"t":"03-02-2021","lo":0.00001,"q1":0.00013,"md":0.0003,"q3":0.00053,"hi":0.00107},
{"t":"03-03-2021","lo":0.00002,"q1":0.00015,"md":0.00033,"q3":0.00067,"hi":0.0014},
{"t":"03-04-2021","lo":0.00002,"q1":0.00015,"md":0.00033,"q3":0.00064,"hi":0.00135},
{"t":"03-05-2021","lo":0.000005,"q1":0.00005,"md":0.00012,"q3":0.00024,"hi":0.00041},
{"t":"03-06-2021","lo":0.000005,"q1":0.00005,"md":0.00011,"q3":0.00022,"hi":0.00039},
{"t":"03-07-2021","lo":0.000006,"q1":0.00005,"md":0.00012,"q3":0.00025,"hi":0.00045},
{"t":"03-08-2021","lo":0.000006,"q1":0.00005,"md":0.00012,"q3":0.00025,"hi":0.00044},
{"t":"03-09-2021","lo":0.000006,"q1":0.00005,"md":0.00012,"q3":0.00024,"hi":0.00044},
{"t":"03-10-2021","lo":0.000005,"q1":0.00004,"md":0.00011,"q3":0.00022,"hi":0.00039},
{"t":"03-11-2021","lo":0.000005,"q1":0.00004,"md":0.0001,"q3":0.00021,"hi":0.00037},
{"t":"03-12-2021","lo":0.000006,"q1":0.00005,"md":0.00012,"q3":0.00024,"hi":0.00044},
{"t":"03-13-2021","lo":0.00001,"q1":0.00007,"md":0.0002,"q3":0.00034,"hi":0.00061},
{"t":"03-14-2021","lo":0.00005,"q1":0.00007,"md":0.00022,"q3":0.00033,"hi":0.00062},
{"t":"03-15-2021","lo":0.00005,"q1":0.00007,"md":0.00022,"q3":0.00033,"hi":0.00065},
{"t":"03-16-2021","lo":0.00005,"q1":0.00007,"md":0.0002,"q3":0.0003,"hi":0.00063},
{"t":"03-17-2021","lo":0.00005,"q1":0.00007,"md":0.0002,"q3":0.00029,"hi":0.00062},
{"t":"03-18-2021","lo":0.00005,"q1":0.0001,"md":0.00025,"q3":0.00045,"hi":0.0009},
{"t":"03-19-2021","lo":0.00008,"q1":0.00066,"md":0.00096,"q3":0.00119,"hi":0.00196},
{"t":"03-20-2021","lo":0.00007,"q1":0.00076,"md":0.00096,"q3":0.00143,"hi":0.00246},
{"t":"03-21-2021","lo":0.00007,"q1":0.00061,"md":0.00093,"q3":0.0013,"hi":0.00239},
{"t":"03-22-2021","lo":0.00007,"q1":0.00057,"md":0.00091,"q3":0.00137,"hi":0.00258},
{"t":"03-23-2021","lo":0.00007,"q1":0.00065,"md":0.00107,"q3":0.00162,"hi":0.00309},
{"t":"03-24-2021","lo":0.00007,"q1":0.00062,"md":0.00107,"q3":0.00166,"hi":0.0033},
{"t":"03-25-2021","lo":0.00005,"q1":0.00047,"md":0.00085,"q3":0.00145,"hi":0.0029},
{"t":"03-26-2021","lo":0.00007,"q1":0.00043,"md":0.0007,"q3":0.00102,"hi":0.00191},
{"t":"03-27-2021","lo":0.00007,"q1":0.00039,"md":0.00066,"q3":0.00101,"hi":0.00192},
{"t":"03-28-2021","lo":0.00007,"q1":0.00036,"md":0.00062,"q3":0.00099,"hi":0.00192},
{"t":"03-29-2021","lo":0.00006,"q1":0.0003,"md":0.00059,"q3":0.00095,"hi":0.00185},
{"t":"03-30-2021","lo":0.00006,"q1":0.00027,"md":0.00047,"q3":0.00076,"hi":0.00159},
{"t":"03-31-2021","lo":0.00006,"q1":0.00027,"md":0.00056,"q3":0.00096,"hi":0.00193},
{"t":"04-01-2021","lo":0.00006,"q1":0.00025,"md":0.00053,"q3":0.00085,"hi":0.00179},
{"t":"04-02-2021","lo":0.00006,"q1":0.00053,"md":0.00082,"q3":0.00118,"hi":0.00211},
{"t":"04-03-2021","lo":0.00006,"q1":0.00055,"md":0.00082,"q3":0.00131,"hi":0.00247},
{"t":"04-04-2021","lo":0.00006,"q1":0.00047,"md":0.00082,"q3":0.00127,"hi":0.00243},
{"t":"04-05-2021","lo":0.00006,"q1":0.0005,"md":0.00085,"q3":0.00133,"hi":0.00259},
{"t":"04-06-2021","lo":0.00006,"q1":0.00056,"md":0.00093,"q3":0.00149,"hi":0.0029},
{"t":"04-07-2021","lo":0.00006,"q1":0.00056,"md":0.00093,"q3":0.0015,"hi":0.00296},
{"t":"04-08-2021","lo":0.00005,"q1":0.00039,"md":0.00073,"q3":0.00119,"hi":0.00246},
{"t":"04-09-2021","lo":0.00006,"q1":0.00067,"md":0.00105,"q3":0.00153,"hi":0.00283},
{"t":"04-10-2021","lo":0.00006,"q1":0.00067,"md":0.00107,"q3":0.00162,"hi":0.00305},
{"t":"04-11-2021","lo":0.00006,"q1":0.00065,"md":0.00105,"q3":0.00158,"hi":0.00305},
{"t":"04-12-2021","lo":0.00005,"q1":0.00053,"md":0.0009,"q3":0.00153,"hi":0.003},
{"t":"04-13-2021","lo":0.00005,"q1":0.00062,"md":0.0011,"q3":0.00179,"hi":0.00354},
{"t":"04-14-2021","lo":0.00005,"q1":0.00055,"md":0.00096,"q3":0.00167,"hi":0.00338},
{"t":"04-15-2021","lo":0.00005,"q1":0.00038,"md":0.00073,"q3":0.00123,"hi":0.00255},
{"t":"04-16-2021","lo":0.00022,"q1":0.00202,"md":0.00253,"q3":0.00325,"hi":0.0051},
{"t":"04-17-2021","lo":0.00022,"q1":0.00205,"md":0.0027,"q3":0.00352,"hi":0.00573},
{"t":"04-18-2021","lo":0.0001,"q1":0.00187,"md":0.00267,"q3":0.00352,"hi":0.00598},
{"t":"04-19-2021","lo":0.00007,"q1":0.00149,"md":0.00233,"q3":0.00323,"hi":0.00583},
{"t":"04-20-2021","lo":0.00008,"q1":0.00122,"md":0.00198,"q3":0.00294,"hi":0.00556},
{"t":"04-21-2021","lo":0.0001,"q1":0.00079,"md":0.00159,"q3":0.00243,"hi":0.00412},
{"t":"04-22-2021","lo":0.00013,"q1":0.00153,"md":0.00223,"q3":0.00298,"hi":0.00513},
{"t":"04-23-2021","lo":0.0001,"q1":0.00125,"md":0.00187,"q3":0.00267,"hi":0.00482},
{"t":"04-24-2021","lo":0.0001,"q1":0.00133,"md":0.00193,"q3":0.00274,"hi":0.00502},
{"t":"04-25-2021","lo":0.00008,"q1":0.00096,"md":0.00159,"q3":0.00243,"hi":0.00463},
{"t":"04-26-2021","lo":0.00007,"q1":0.00073,"md":0.00127,"q3":0.00211,"hi":0.00415},
{"t":"04-27-2021","lo":0.00006,"q1":0.00056,"md":0.00087,"q3":0.00139,"hi":0.00262},
{"t":"04-28-2021","lo":0.00006,"q1":0.00047,"md":0.00085,"q3":0.00127,"hi":0.00251},
{"t":"04-29-2021","lo":0.00006,"q1":0.00053,"md":0.00087,"q3":0.00142,"hi":0.00278},
{"t":"04-30-2021","lo":0.00005,"q1":0.00036,"md":0.00067,"q3":0.00107,"hi":0.00213},
{"t":"05-01-2021","lo":0.00005,"q1":0.00042,"md":0.00076,"q3":0.00116,"hi":0.00233},
{"t":"05-02-2021","lo":0.00005,"q1":0.0005,"md":0.00079,"q3":0.00127,"hi":0.00269},
{"t":"05-03-2021","lo":0.00005,"q1":0.00033,"md":0.00067,"q3":0.00116,"hi":0.00241},
{"t":"05-04-2021","lo":0.00006,"q1":0.00067,"md":0.00096,"q3":0.00153,"hi":0.00287},
{"t":"05-05-2021","lo":0.00006,"q1":0.00056,"md":0.0009,"q3":0.00142,"hi":0.00278},
{"t":"05-06-2021","lo":0.00006,"q1":0.0007,"md":0.00105,"q3":0.00165,"hi":0.00321},
{"t":"05-07-2021","lo":0.00006,"q1":0.00056,"md":0.00093,"q3":0.00153,"hi":0.00303},
{"t":"05-08-2021","lo":0.00006,"q1":0.0005,"md":0.00093,"q3":0.00153,"hi":0.00306},
{"t":"05-09-2021","lo":0.00006,"q1":0.0005,"md":0.00085,"q3":0.00145,"hi":0.00293},
{"t":"05-10-2021","lo":0.00006,"q1":0.00062,"md":0.00096,"q3":0.00162,"hi":0.00327},
{"t":"05-11-2021","lo":0.00007,"q1":0.00082,"md":0.00133,"q3":0.00194,"hi":0.00353},
{"t":"05-12-2021","lo":0.00007,"q1":0.00085,"md":0.00136,"q3":0.00193,"hi":0.00363},
{"t":"05-13-2021","lo":0.00007,"q1":0.00079,"md":0.00139,"q3":0.00206,"hi":0.00392},
{"t":"05-14-2021","lo":0.00007,"q1":0.00073,"md":0.00127,"q3":0.00193,"hi":0.0037},
{"t":"05-15-2021","lo":0.00007,"q1":0.0007,"md":0.00119,"q3":0.00187,"hi":0.00366},
{"t":"05-16-2021","lo":0.00006,"q1":0.00056,"md":0.00107,"q3":0.00173,"hi":0.00346},
{"t":"05-17-2021","lo":0.00006,"q1":0.0005,"md":0.00096,"q3":0.00159,"hi":0.00316},
{"t":"05-18-2021","lo":0.00006,"q1":0.00059,"md":0.00096,"q3":0.00158,"hi":0.0029},
{"t":"05-19-2021","lo":0.00006,"q1":0.00056,"md":0.00093,"q3":0.00143,"hi":0.0027},
{"t":"05-20-2021","lo":0.00006,"q1":0.00053,"md":0.0009,"q3":0.00142,"hi":0.00269},
{"t":"05-21-2021","lo":0.00006,"q1":0.00056,"md":0.0009,"q3":0.00145,"hi":0.00281},
{"t":"05-22-2021","lo":0.00005,"q1":0.00046,"md":0.00079,"q3":0.00127,"hi":0.0025},
{"t":"05-23-2021","lo":0.00005,"q1":0.00056,"md":0.0009,"q3":0.00136,"hi":0.00269},
{"t":"05-24-2021","lo":0.00006,"q1":0.00062,"md":0.00096,"q3":0.00156,"hi":0.0031},
{"t":"05-25-2021","lo":0.00005,"q1":0.00046,"md":0.00076,"q3":0.00113,"hi":0.00219},
{"t":"05-26-2021","lo":0.00005,"q1":0.00045,"md":0.00076,"q3":0.00116,"hi":0.00226},
{"t":"05-27-2021","lo":0.00005,"q1":0.0005,"md":0.00079,"q3":0.0013,"hi":0.0025},
{"t":"05-28-2021","lo":0.00005,"q1":0.00042,"md":0.00073,"q3":0.00125,"hi":0.00245},
{"t":"05-29-2021","lo":0.00004,"q1":0.00033,"md":0.00062,"q3":0.00105,"hi":0.00192},
{"t":"05-30-2021","lo":0.00004,"q1":0.0003,"md":0.00056,"q3":0.00093,"hi":0.00186},
{"t":"05-31-2021","lo":0.00004,"q1":0.00033,"md":0.00059,"q3":0.00099,"hi":0.00202},
{"t":"06-01-2021","lo":0.00004,"q1":0.00042,"md":0.0009,"q3":0.00122,"hi":0.00213},
{"t":"06-02-2021","lo":0.00004,"q1":0.00047,"md":0.00073,"q3":0.0011,"hi":0.00206},
{"t":"06-03-2021","lo":0.00004,"q1":0.00042,"md":0.00067,"q3":0.00102,"hi":0.00193},
{"t":"06-04-2021","lo":0.00004,"q1":0.00036,"md":0.00065,"q3":0.00096,"hi":0.00183},
{"t":"06-05-2021","lo":0.00003,"q1":0.00027,"md":0.0005,"q3":0.00076,"hi":0.00147},
{"t":"06-06-2021","lo":0.00003,"q1":0.00022,"md":0.00042,"q3":0.00065,"hi":0.00126},
{"t":"06-07-2021","lo":0.00003,"q1":0.00022,"md":0.00045,"q3":0.00067,"hi":0.00137},
{"t":"06-08-2021","lo":0.0001,"q1":0.00107,"md":0.00142,"q3":0.00165,"hi":0.00247},
{"t":"06-09-2021","lo":0.0001,"q1":0.00099,"md":0.0013,"q3":0.00162,"hi":0.00251},
{"t":"06-10-2021","lo":0.00008,"q1":0.00096,"md":0.00127,"q3":0.00162,"hi":0.0026},
{"t":"06-11-2021","lo":0.00007,"q1":0.00085,"md":0.00119,"q3":0.00156,"hi":0.00251},
{"t":"06-12-2021","lo":0.00007,"q1":0.00079,"md":0.00116,"q3":0.00157,"hi":0.00262},
{"t":"06-13-2021","lo":0.00006,"q1":0.00073,"md":0.0011,"q3":0.00149,"hi":0.0026},
{"t":"06-14-2021","lo":0.00005,"q1":0.0005,"md":0.0009,"q3":0.00119,"hi":0.00222},
{"t":"06-15-2021","lo":0.00005,"q1":0.00059,"md":0.00096,"q3":0.00125,"hi":0.00213},
{"t":"06-16-2021","lo":0.00005,"q1":0.00056,"md":0.0009,"q3":0.00116,"hi":0.00202},
{"t":"06-17-2021","lo":0.00004,"q1":0.00045,"md":0.00073,"q3":0.00105,"hi":0.0019},
{"t":"06-18-2021","lo":0.00004,"q1":0.00042,"md":0.00067,"q3":0.00099,"hi":0.00183},
{"t":"06-19-2021","lo":0.00003,"q1":0.00025,"md":0.00047,"q3":0.00074,"hi":0.00142},
{"t":"06-20-2021","lo":0.00003,"q1":0.00022,"md":0.00036,"q3":0.00062,"hi":0.00119},
{"t":"06-21-2021","lo":0.00002,"q1":0.00016,"md":0.00027,"q3":0.00043,"hi":0.00083},
{"t":"06-22-2021","lo":0.00005,"q1":0.00067,"md":0.00093,"q3":0.00112,"hi":0.00176},
{"t":"06-23-2021","lo":0.00005,"q1":0.00065,"md":0.0009,"q3":0.00107,"hi":0.00173},
{"t":"06-24-2021","lo":0.00004,"q1":0.00059,"md":0.00079,"q3":0.00103,"hi":0.00166},
{"t":"06-25-2021","lo":0.00004,"q1":0.00045,"md":0.00065,"q3":0.00087,"hi":0.00152},
{"t":"06-26-2021","lo":0.00003,"q1":0.00036,"md":0.00053,"q3":0.00073,"hi":0.00139},
{"t":"06-27-2021","lo":0.00003,"q1":0.0003,"md":0.00042,"q3":0.00059,"hi":0.00114},
{"t":"06-28-2021","lo":0.00002,"q1":0.00022,"md":0.00034,"q3":0.00047,"hi":0.00095},
{"t":"06-29-2021","lo":0.00002,"q1":0.00027,"md":0.00042,"q3":0.00057,"hi":0.00103},
{"t":"06-30-2021","lo":0.00002,"q1":0.00023,"md":0.00036,"q3":0.00047,"hi":0.0009},
{"t":"07-01-2021","lo":0.00002,"q1":0.00019,"md":0.0003,"q3":0.00042,"hi":0.00078},
{"t":"07-02-2021","lo":0.00002,"q1":0.00017,"md":0.00027,"q3":0.00039,"hi":0.00069},
{"t":"07-03-2021","lo":0.00001,"q1":0.00013,"md":0.00022,"q3":0.0003,"hi":0.00059},
{"t":"07-04-2021","lo":0.00001,"q1":0.0001,"md":0.00019,"q3":0.00027,"hi":0.00047},
{"t":"07-05-2021","lo":0.00001,"q1":0.00007,"md":0.00014,"q3":0.00022,"hi":0.00039},
{"t":"07-06-2021","lo":0.0001,"q1":0.00045,"md":0.00055,"q3":0.00065,"hi":0.00095},
{"t":"07-07-2021","lo":0.00009,"q1":0.00042,"md":0.00052,"q3":0.00062,"hi":0.00093},
{"t":"07-08-2021","lo":0.00008,"q1":0.00039,"md":0.0005,"q3":0.00061,"hi":0.00087},
{"t":"07-09-2021","lo":0.00007,"q1":0.00036,"md":0.00047,"q3":0.00057,"hi":0.00093},
{"t":"07-10-2021","lo":0.00006,"q1":0.00033,"md":0.00042,"q3":0.00051,"hi":0.00083},
{"t":"07-11-2021","lo":0.00005,"q1":0.00027,"md":0.00037,"q3":0.00046,"hi":0.00074},
{"t":"07-12-2021","lo":0.00004,"q1":0.00022,"md":0.00031,"q3":0.00039,"hi":0.00065},
{"t":"07-13-2021","lo":0.00036,"q1":0.00061,"md":0.00069,"q3":0.00078,"hi":0.00101},
{"t":"07-14-2021","lo":0.00033,"q1":0.00059,"md":0.00067,"q3":0.00076,"hi":0.00097},
{"t":"07-15-2021","lo":0.00027,"q1":0.00057,"md":0.00065,"q3":0.00074,"hi":0.00099},
{"t":"07-16-2021","lo":0.00026,"q1":0.00055,"md":0.00063,"q3":0.00072,"hi":0.00099},
{"t":"07-17-2021","lo":0.00022,"q1":0.00053,"md":0.00061,"q3":0.0007,"hi":0.00099},
{"t":"07-18-2021","lo":0.00016,"q1":0.00049,"md":0.00058,"q3":0.00067,"hi":0.00097},
{"t":"07-19-2021","lo":0.0001,"q1":0.00045,"md":0.00055,"q3":0.00065,"hi":0.00095},
{"t":"07-20-2021","lo":0.00036,"q1":0.00059,"md":0.00069,"q3":0.00078,"hi":0.00096},
{"t":"07-21-2021","lo":0.00033,"q1":0.00057,"md":0.00065,"q3":0.00074,"hi":0.00099},
{"t":"07-22-2021","lo":0.00027,"q1":0.00055,"md":0.00063,"q3":0.00072,"hi":0.00099},
{"t":"07-23-2021","lo":0.00022,"q1":0.00051,"md":0.00061,"q3":0.0007,"hi":0.00097},
{"t":"07-24-2021","lo":0.00016,"q1":0.00047,"md":0.00057,"q3":0.00066,"hi":0.00091},
{"t":"07-25-2021","lo":0.0001,"q1":0.00043,"md":0.00053,"q3":0.00063,"hi":0.00087},
{"t":"07-26-2021","lo":0.00005,"q1":0.00039,"md":0.0005,"q3":0.00061,"hi":0.00086},
{"t":"07-27-2021","lo":0.00076,"q1":0.00093,"md":0.00101,"q3":0.0011,"hi":0.00114},
{"t":"07-28-2021","lo":0.00083,"q1":0.00091,"md":0.001,"q3":0.00108,"hi":0.00116},
{"t":"07-29-2021","lo":0.00082,"q1":0.00091,"md":0.001,"q3":0.00108,"hi":0.00118},
{"t":"07-30-2021","lo":0.0008,"q1":0.00094,"md":0.00101,"q3":0.00108,"hi":0.00123}
]},
"encoding":{
 "x":{"field":"t","type":"ordinal","sort":null,"title":"Time",
  "scale":{"paddingInner":0,"paddingOuter":0.1},
  "axis":{"bandPosition":0.5,"domain":false,"grid":true,"gridColor":"#FFFFFF","gridWidth":2.7,"ticks":true,"tickColor":"#333333","tickSize":7,"tickWidth":3,"labelAngle":270,"labelFontSize":7.8,"labelColor":"#4D4D4D","labelPadding":5,"labelOverlap":false,"labelBound":false,"labelFlush":false,"titleFontSize":28,"titleFontWeight":"normal","titleColor":"#000000","titlePadding":6}}
},
"layer":[
 {"mark":{"type":"rule","color":"#333333","strokeWidth":2.6},
  "encoding":{
   "y":{"field":"lo","type":"quantitative","title":"Model Estimated Daily Force Infection",
    "scale":{"domain":[-0.000605,0.013152],"nice":false,"zero":false},
    "axis":{"values":[0,0.002,0.004,0.006,0.008,0.01,0.012],"format":".3f",
     "labelExpr":"(datum.value == 0 || datum.value == 0.004 || datum.value == 0.008 || datum.value == 0.012) ? datum.label : ''",
     "domain":false,"grid":true,"gridColor":"#FFFFFF",
     "gridWidth":{"condition":{"test":"datum.value == 0 || datum.value == 0.004 || datum.value == 0.008 || datum.value == 0.012","value":3.6},"value":1.8},
     "tickColor":{"condition":{"test":"datum.value == 0 || datum.value == 0.004 || datum.value == 0.008 || datum.value == 0.012","value":"#333333"},"value":"transparent"},
     "tickSize":7,"tickWidth":3,"labelFontSize":23,"labelColor":"#4D4D4D","labelPadding":5,
     "titleFontSize":28,"titleFontWeight":"normal","titleColor":"#000000","titlePadding":12}},
   "y2":{"field":"hi"}}},
 {"mark":{"type":"bar","fill":"#FFFFFF","stroke":"#333333","strokeWidth":2.5,"width":{"band":0.68}},
  "encoding":{
   "y":{"field":"q1","type":"quantitative","title":"Model Estimated Daily Force Infection",
    "scale":{"domain":[-0.000605,0.013152],"nice":false,"zero":false}},
   "y2":{"field":"q3"}}},
 {"mark":{"type":"tick","color":"#333333","thickness":4.5,"size":5,"opacity":1},
  "encoding":{
   "y":{"field":"md","type":"quantitative","title":"Model Estimated Daily Force Infection",
    "scale":{"domain":[-0.000605,0.013152],"nice":false,"zero":false}}}}
]
}
